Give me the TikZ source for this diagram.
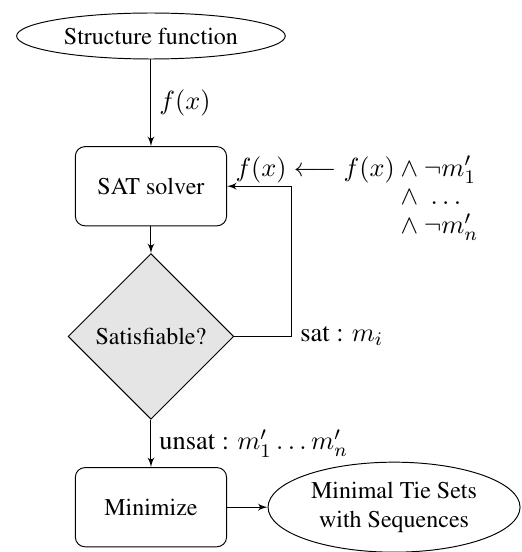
\documentclass[tikz,border=0pt]{standalone}
\usepackage[T1]{fontenc}
\usepackage{amsmath, amssymb}
\usepackage{times}
\usepackage{tikz}
\usetikzlibrary{arrows}
\usetikzlibrary{positioning}
\usetikzlibrary{shapes.geometric}
\tikzstyle{block} = [rectangle, draw, text centered, rounded corners, minimum height=33pt, minimum width=63pt]
\tikzstyle{decision} = [diamond, draw, fill=black!10, aspect=1, minimum width=69pt, minimum height=69pt, inner sep=1pt]
\tikzstyle{terminal} = [ellipse, draw, align=center]
\tikzstyle{line} = [draw, -latex']
\tikzstyle{value} = [font=\fontsize{11}{12}\selectfont]

\begin{document}
\begin{tikzpicture}[node distance = 2.2cm, auto]
            \useasboundingbox (-62.9pt,15pt) rectangle (154.2pt,-215pt);
            % Place nodes
            \node [terminal] (func) {Structure function};
            \node [block, below of=func] (solver) {SAT solver};
            \node [decision, below of=solver] (check) {Satisfiable?};
            \node [block, below of=check, node distance=2.5cm] (minim) {Minimize};
            \node [terminal, right of=minim, node distance=3.56cm, inner sep=0pt, minimum width=105pt, minimum height=37.5pt] (ties) {Minimal Tie Sets\\with Sequences};
            \node [value, anchor=north west, yshift=-0.5pt] (update) at (solver.north east) {$\begin{array}{@{}r@{}l@{}}
                f(x) \longleftarrow f(x) & {}\wedge \neg m'_1\\
                 & {}\wedge\ \ldots\\
                 & {}\wedge \neg m'_n
              \end{array}$};
            % Draw edges
            \path [line] (func) -- node [value] {$f(x)$} (solver);
            \path [line] (solver) -- (check);
            \path [line] (check) -- node [value] {unsat : $m'_1 \ldots m'_n$} (minim);
            \path [line] (minim) -- (ties);
            \path [line] (check.east) -- ++(24pt,0) node [value, right] {sat : $m_i$} |- (solver);
          \end{tikzpicture}
\end{document}
